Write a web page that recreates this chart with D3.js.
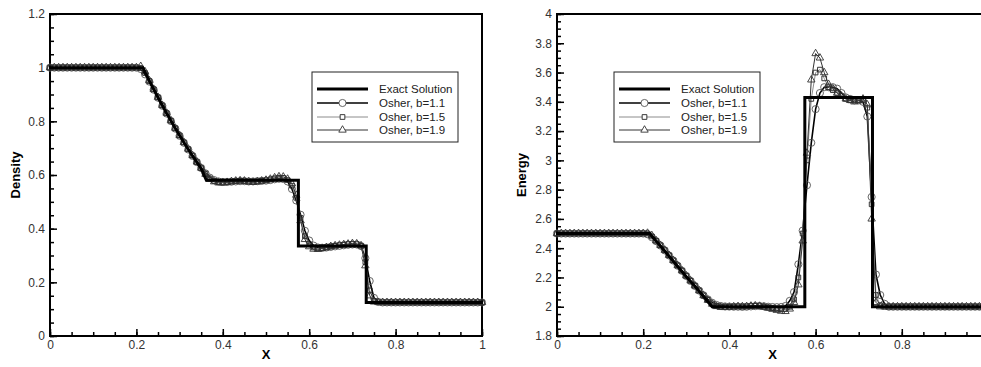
<!DOCTYPE html>
<html>
<head>
<meta charset="utf-8">
<script src="https://cdn.jsdelivr.net/npm/d3@7"></script>
<style>
  html, body { margin: 0; padding: 0; background: #fff; }
  svg { display: block; }
  text { font-family: "Liberation Sans", Arial, sans-serif; }
</style>
</head>
<body>
<svg id="chart" width="981" height="367"></svg>
<script>
// Cell positions of the numerical solutions (100 cells on [0, 1])
const xGrid = d3.range(0, 101).map(i => i / 100);

// Exact solution breakpoints
const exactRhoX = [0, 0.215, 0.23, 0.25, 0.27, 0.29, 0.31, 0.33, 0.35, 0.362, 0.575, 0.575, 0.732, 0.732, 1];
const exactRhoY = [1, 1, 0.951, 0.889, 0.830, 0.774, 0.721, 0.671, 0.624, 0.58, 0.58, 0.335, 0.335, 0.125, 0.125];
const exactEX = [0, 0.215, 0.24, 0.26, 0.28, 0.30, 0.32, 0.34, 0.36, 0.575, 0.575, 0.732, 0.732, 1];
const exactEY = [2.5, 2.5, 2.415, 2.345, 2.275, 2.205, 2.14, 2.07, 2.0, 2.0, 3.43, 3.43, 2.0, 2.0];

// Density, Osher scheme
const rhoB11 = [1,1,1,1,1,1,1,1,1,1, 1,1,1,1,1,1,1,1,1,1,
  1, 0.995, 0.975, 0.948, 0.918, 0.888, 0.858, 0.829, 0.801, 0.773,
  0.746, 0.720, 0.695, 0.671, 0.648, 0.626, 0.606, 0.590, 0.581, 0.576,
  0.574, 0.574, 0.575, 0.576, 0.577, 0.577, 0.576, 0.576, 0.577, 0.578,
  0.579, 0.581, 0.584, 0.586, 0.585, 0.576, 0.548, 0.505, 0.452, 0.392,
  0.356, 0.337, 0.330, 0.329, 0.330, 0.332, 0.334, 0.336, 0.338, 0.340,
  0.341, 0.341, 0.335, 0.290, 0.205, 0.142, 0.127, 0.125, 0.125, 0.125,
  0.125,0.125,0.125,0.125,0.125,0.125,0.125,0.125,0.125,0.125,
  0.125,0.125,0.125,0.125,0.125,0.125,0.125,0.125,0.125,0.125, 0.125];
const rhoB15 = [1,1,1,1,1,1,1,1,1,1, 1,1,1,1,1,1,1,1,1,1,
  1, 0.998, 0.980, 0.950, 0.919, 0.889, 0.859, 0.830, 0.802, 0.774,
  0.747, 0.721, 0.696, 0.672, 0.648, 0.626, 0.604, 0.587, 0.578, 0.573,
  0.572, 0.573, 0.575, 0.577, 0.578, 0.577, 0.575, 0.574, 0.576, 0.578,
  0.580, 0.583, 0.587, 0.590, 0.589, 0.581, 0.560, 0.515, 0.440, 0.372,
  0.342, 0.330, 0.326, 0.327, 0.330, 0.333, 0.336, 0.338, 0.340, 0.342,
  0.343, 0.342, 0.336, 0.275, 0.170, 0.131, 0.126, 0.125, 0.125, 0.125,
  0.125,0.125,0.125,0.125,0.125,0.125,0.125,0.125,0.125,0.125,
  0.125,0.125,0.125,0.125,0.125,0.125,0.125,0.125,0.125,0.125, 0.125];
const rhoB19 = [1,1,1,1,1,1,1,1,1,1, 1,1,1,1,1,1,1,1,1,1,
  1, 1.005, 0.985, 0.952, 0.920, 0.890, 0.860, 0.831, 0.803, 0.775,
  0.748, 0.722, 0.697, 0.673, 0.649, 0.626, 0.603, 0.584, 0.575, 0.571,
  0.571, 0.573, 0.576, 0.578, 0.579, 0.578, 0.575, 0.573, 0.575, 0.578,
  0.581, 0.585, 0.590, 0.594, 0.593, 0.585, 0.568, 0.525, 0.430, 0.360,
  0.333, 0.324, 0.323, 0.326, 0.330, 0.334, 0.337, 0.339, 0.341, 0.343,
  0.345, 0.344, 0.337, 0.262, 0.150, 0.127, 0.125, 0.125, 0.125, 0.125,
  0.125,0.125,0.125,0.125,0.125,0.125,0.125,0.125,0.125,0.125,
  0.125,0.125,0.125,0.125,0.125,0.125,0.125,0.125,0.125,0.125, 0.125];

// Internal energy, Osher scheme
const eB11 = [2.5,2.5,2.5,2.5,2.5,2.5,2.5,2.5,2.5,2.5, 2.5,2.5,2.5,2.5,2.5,2.5,2.5,2.5,2.5,2.5,
  2.5, 2.495, 2.475, 2.448, 2.418, 2.385, 2.350, 2.315, 2.280, 2.245,
  2.210, 2.176, 2.142, 2.110, 2.078, 2.050, 2.027, 2.012, 2.005, 2.002,
  2.001, 2.0, 2.0, 1.999, 2.0, 2.002, 2.004, 2.005, 2.003, 2.0,
  1.998, 1.997, 1.998, 2.005, 2.04, 2.10, 2.29, 2.52, 2.83, 3.12,
  3.35, 3.46, 3.50, 3.50, 3.50, 3.49, 3.46, 3.43, 3.42, 3.41,
  3.41, 3.40, 3.30, 2.75, 2.22, 2.08, 2.02, 2.0, 2.0, 2.0,
  2.0,2.0,2.0,2.0,2.0,2.0,2.0,2.0,2.0,2.0, 2.0,2.0,2.0,2.0,2.0,2.0,2.0,2.0,2.0,2.0, 2.0];
const eB15 = [2.5,2.5,2.5,2.5,2.5,2.5,2.5,2.5,2.5,2.5, 2.5,2.5,2.5,2.5,2.5,2.5,2.5,2.5,2.5,2.5,
  2.5, 2.5, 2.48, 2.45, 2.419, 2.386, 2.351, 2.316, 2.281, 2.246,
  2.211, 2.177, 2.143, 2.110, 2.077, 2.047, 2.022, 2.006, 2.000, 1.998,
  1.999, 2.0, 2.001, 2.0, 2.001, 2.004, 2.006, 2.004, 2.0, 1.995,
  1.99, 1.985, 1.983, 1.985, 2.0, 2.05, 2.20, 2.50, 3.0, 3.42,
  3.60, 3.62, 3.56, 3.50, 3.48, 3.46, 3.44, 3.42, 3.41, 3.41,
  3.41, 3.41, 3.36, 2.70, 2.08, 2.01, 2.0, 2.0, 2.0, 2.0,
  2.0,2.0,2.0,2.0,2.0,2.0,2.0,2.0,2.0,2.0, 2.0,2.0,2.0,2.0,2.0,2.0,2.0,2.0,2.0,2.0, 2.0];
const eB19 = [2.5,2.5,2.5,2.5,2.5,2.5,2.5,2.5,2.5,2.5, 2.5,2.5,2.5,2.5,2.5,2.5,2.5,2.5,2.5,2.5,
  2.5, 2.503, 2.487, 2.452, 2.420, 2.387, 2.352, 2.317, 2.282, 2.247,
  2.212, 2.178, 2.144, 2.110, 2.076, 2.045, 2.018, 2.002, 1.996, 1.995,
  1.997, 2.0, 2.002, 2.001, 2.002, 2.005, 2.007, 2.004, 1.998, 1.99,
  1.983, 1.976, 1.970, 1.968, 1.985, 2.03, 2.15, 2.45, 3.05, 3.55,
  3.73, 3.70, 3.60, 3.52, 3.49, 3.46, 3.44, 3.42, 3.41, 3.40,
  3.41, 3.42, 3.38, 2.60, 2.03, 2.0, 2.0, 2.0, 2.0, 2.0,
  2.0,2.0,2.0,2.0,2.0,2.0,2.0,2.0,2.0,2.0, 2.0,2.0,2.0,2.0,2.0,2.0,2.0,2.0,2.0,2.0, 2.0];

// Axis ticks
const xTicks = [0, 0.2, 0.4, 0.6, 0.8, 1];
const rhoTicks = [0, 0.2, 0.4, 0.6, 0.8, 1, 1.2];
const eTicks = [1.8, 2, 2.2, 2.4, 2.6, 2.8, 3, 3.2, 3.4, 3.6, 3.8, 4];

const legendLabels = ["Exact Solution", "Osher, b=1.1", "Osher, b=1.5", "Osher, b=1.9"];

// Line / marker styles per scheme
const styles = [
  { lineColor: "#000", lineWidth: 1.6, marker: "circle", markerColor: "#555" },
  { lineColor: "#8c8c8c", lineWidth: 1, marker: "square", markerColor: "#222" },
  { lineColor: "#333", lineWidth: 1, marker: "triangle", markerColor: "#333" }
];

const W = 981;
const svg = d3.select("#chart");

function markerPath(kind) {
  if (kind === "circle") return d3.symbol(d3.symbolCircle, 40)();
  if (kind === "square") return d3.symbol(d3.symbolSquare, 22)();
  return d3.symbol(d3.symbolTriangle, 24)();
}

function drawPanel(cfg) {
  const g = svg.append("g");
  const x = d3.scaleLinear().domain([0, 1]).range([cfg.left, cfg.right]);
  const y = d3.scaleLinear().domain(cfg.yDomain).range([336, 14]);
  const fmt = d3.format("~g");

  // Minor ticks (inward)
  g.append("g").attr("transform", "translate(0,336)")
    .call(d3.axisBottom(x).tickValues(d3.range(0, 1.0001, 0.05)).tickSize(-4).tickSizeOuter(0).tickFormat(""))
    .call(s => s.select(".domain").remove());
  g.append("g").attr("transform", `translate(${cfg.left},0)`)
    .call(d3.axisLeft(y).tickValues(d3.range(cfg.yDomain[0], cfg.yDomain[1] + 1e-6, 0.05)).tickSize(-4).tickSizeOuter(0).tickFormat(""))
    .call(s => s.select(".domain").remove());

  // Major ticks with labels (only those that fall inside the page)
  const visibleX = xTicks.filter(v => x(v) < W - 4);
  const xa = g.append("g").attr("transform", "translate(0,336)")
    .call(d3.axisBottom(x).tickValues(visibleX).tickSize(-7).tickSizeOuter(0).tickPadding(4).tickFormat(fmt));
  xa.select(".domain").remove();
  const ya = g.append("g").attr("transform", `translate(${cfg.left},0)`)
    .call(d3.axisLeft(y).tickValues(cfg.yTicks).tickSize(-7).tickSizeOuter(0).tickPadding(4).tickFormat(fmt));
  ya.select(".domain").remove();
  g.selectAll(".tick line").attr("stroke", "#000").attr("stroke-width", 1.5);
  g.selectAll(".tick text").attr("font-size", 12).attr("fill", "#333")
    .attr("font-family", "'Liberation Sans', Arial, sans-serif");
  ya.selectAll(".tick text").attr("x", -5);

  // Frame
  g.append("rect").attr("x", cfg.left).attr("y", 14)
    .attr("width", x(1) - cfg.left).attr("height", 322)
    .attr("fill", "none").attr("stroke", "#000").attr("stroke-width", 2);

  // Numerical solutions
  const plot = g.append("g");
  const line = d3.line().x(d => x(d[0])).y(d => y(d[1]));
  cfg.series.forEach((vals, k) => {
    const st = styles[k];
    const pts = xGrid.map((xv, i) => [xv, vals[i]]);
    plot.append("path").attr("d", line(pts)).attr("fill", "none")
      .attr("stroke", st.lineColor).attr("stroke-width", st.lineWidth);
    plot.append("g").selectAll("path").data(pts).join("path")
      .attr("d", markerPath(st.marker))
      .attr("transform", d => `translate(${x(d[0])},${y(d[1])})`)
      .attr("fill", "none").attr("stroke", st.markerColor).attr("stroke-width", 0.9);
  });

  // Exact solution
  const ex = cfg.exactX.map((xv, i) => [xv, cfg.exactY[i]]);
  plot.append("path").attr("d", line(ex)).attr("fill", "none")
    .attr("stroke", "#000").attr("stroke-width", 3).attr("stroke-linejoin", "miter");

  // Axis titles
  g.append("text").attr("x", x(0.5)).attr("y", 359).attr("text-anchor", "middle")
    .attr("font-size", 13).attr("font-weight", "bold").text("X");
  g.append("text").attr("transform", `translate(${cfg.titleX},175) rotate(-90)`)
    .attr("text-anchor", "middle").attr("font-size", 13).attr("font-weight", "bold").text(cfg.title);

  // Legend
  const L = cfg.legend;
  const lg = g.append("g");
  lg.append("rect").attr("x", L.x).attr("y", 72).attr("width", 146).attr("height", 70)
    .attr("fill", "#fff").attr("stroke", "#222").attr("stroke-width", 1);
  const rows = [89, 103, 117, 130];
  legendLabels.forEach((lab, k) => {
    const yy = rows[k];
    const x0 = L.x + 5, x1 = L.x + 56;
    if (k === 0) {
      lg.append("line").attr("x1", x0).attr("x2", x1).attr("y1", yy).attr("y2", yy)
        .attr("stroke", "#000").attr("stroke-width", 3);
    } else {
      const st = styles[k - 1];
      lg.append("line").attr("x1", x0).attr("x2", x1).attr("y1", yy).attr("y2", yy)
        .attr("stroke", st.lineColor).attr("stroke-width", st.lineWidth);
      lg.append("path").attr("d", markerPath(st.marker))
        .attr("transform", `translate(${(x0 + x1) / 2},${yy})`)
        .attr("fill", "#fff").attr("stroke", st.markerColor).attr("stroke-width", 0.9);
    }
    lg.append("text").attr("x", L.x + 67).attr("y", yy + 4).attr("font-size", 11.5)
      .attr("fill", "#222").text(lab);
  });
}

drawPanel({
  left: 50, right: 482, yDomain: [0, 1.2], yTicks: rhoTicks,
  series: [rhoB11, rhoB15, rhoB19], exactX: exactRhoX, exactY: exactRhoY,
  title: "Density", titleX: 20, legend: { x: 312 }
});
drawPanel({
  left: 557, right: 988, yDomain: [1.8, 4], yTicks: eTicks,
  series: [eB11, eB15, eB19], exactX: exactEX, exactY: exactEY,
  title: "Energy", titleX: 526, legend: { x: 614 }
});
</script>
</body>
</html>
